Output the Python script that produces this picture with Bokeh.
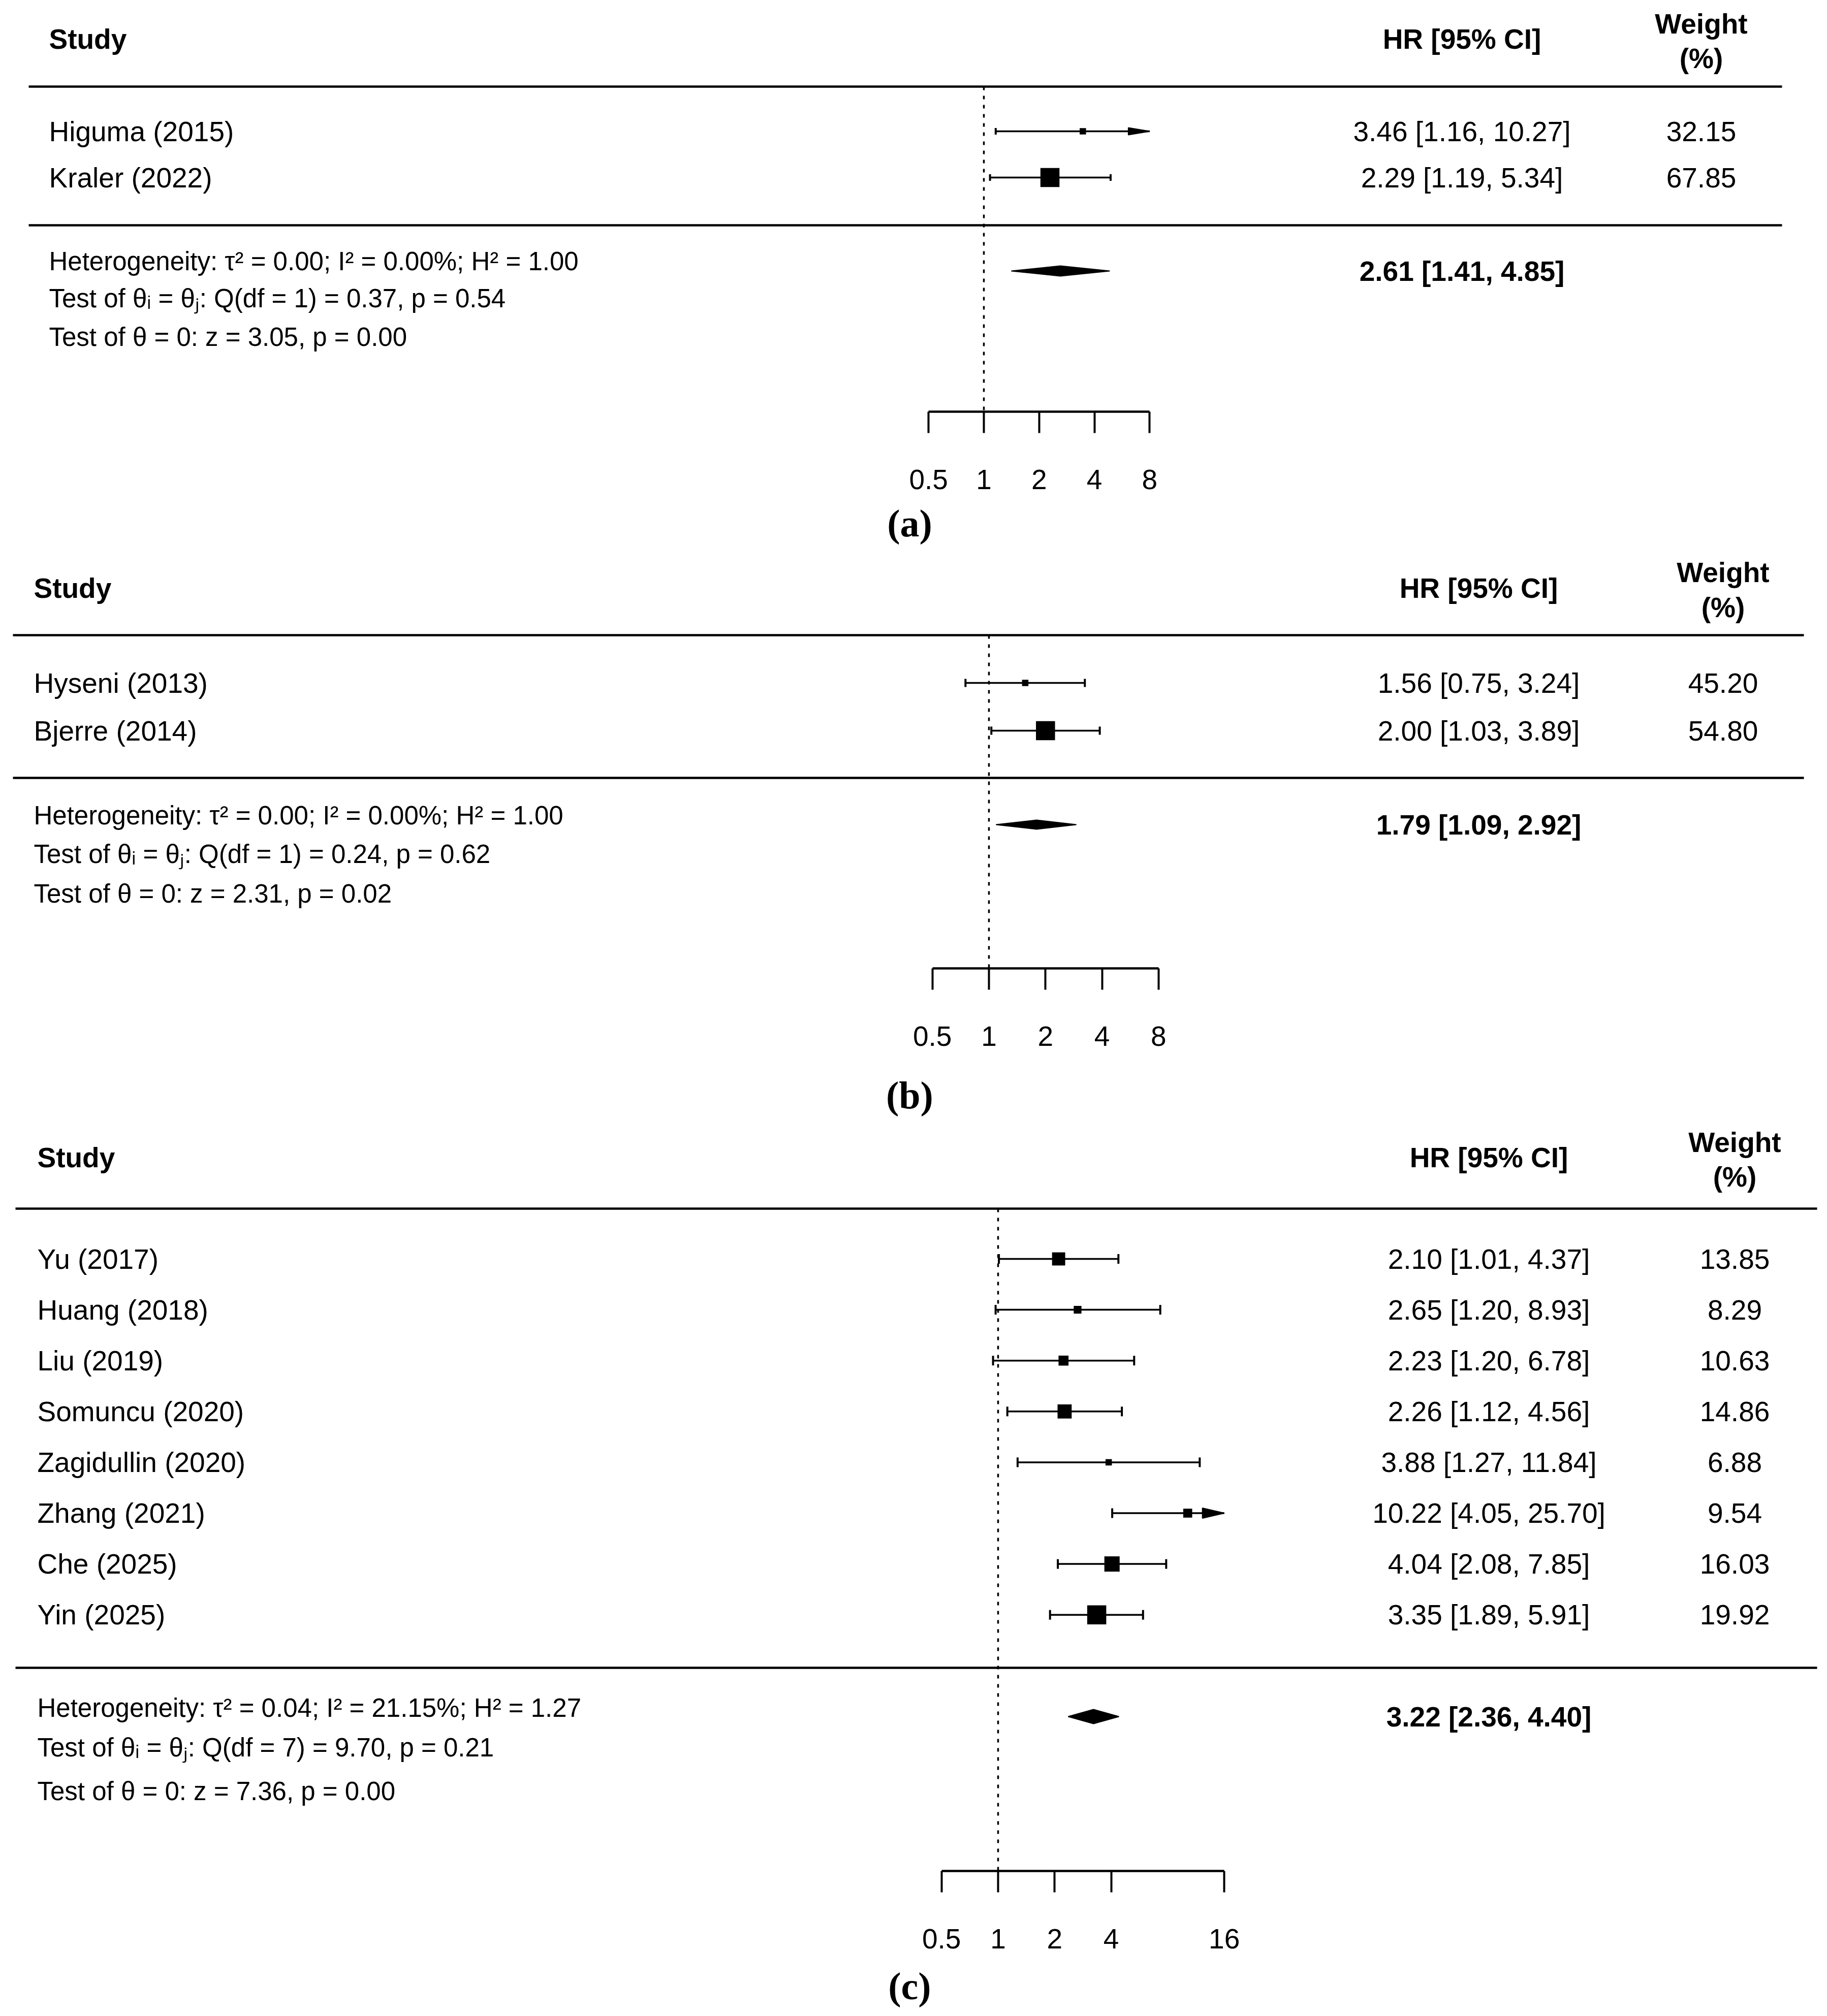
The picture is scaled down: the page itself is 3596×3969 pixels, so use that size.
from bokeh.plotting import figure
from bokeh.models import Range1d, FixedTicker, LogAxis
from bokeh.layouts import column
from bokeh.embed import file_html
from bokeh.resources import INLINE
from bokeh.core.properties import value

# ---------------- data: panel (a) ----------------
studies_a = ["Higuma (2015)", "Kraler (2022)"]
est_a = [3.46, 2.29]
lo_a = [1.16, 1.08]          # plotted CI ends
hi_a = [10.27, 4.90]
ci_text_a = ["3.46 [1.16, 10.27]", "2.29 [1.19, 5.34]"]
weight_a = [32.15, 67.85]
summary_a = [2.61, 1.41, 4.85]
summary_text_a = "2.61 [1.41, 4.85]"
stats_a = [0.00, 0.00, 1.00, 1, 0.37, 0.54, 3.05, 0.00]   # tau2, I2, H2, df, Q, pQ, z, pz
ticks_a = [0.5, 1, 2, 4, 8]
tick_labels_a = ["0.5", "1", "2", "4", "8"]

# ---------------- data: panel (b) ----------------
studies_b = ["Hyseni (2013)", "Bjerre (2014)"]
est_b = [1.56, 2.00]
lo_b = [0.75, 1.03]
hi_b = [3.24, 3.89]
ci_text_b = ["1.56 [0.75, 3.24]", "2.00 [1.03, 3.89]"]
weight_b = [45.20, 54.80]
summary_b = [1.79, 1.09, 2.92]
summary_text_b = "1.79 [1.09, 2.92]"
stats_b = [0.00, 0.00, 1.00, 1, 0.24, 0.62, 2.31, 0.02]
ticks_b = [0.5, 1, 2, 4, 8]
tick_labels_b = ["0.5", "1", "2", "4", "8"]

# ---------------- data: panel (c) ----------------
studies_c = ["Yu (2017)", "Huang (2018)", "Liu  (2019)", "Somuncu (2020)",
             "Zagidullin (2020)", "Zhang (2021)", "Che (2025)", "Yin (2025)"]
est_c = [2.10, 2.65, 2.23, 2.26, 3.88, 10.22, 4.04, 3.35]
lo_c = [1.01, 0.97, 0.94, 1.12, 1.27, 4.05, 2.08, 1.89]
hi_c = [4.37, 7.30, 5.30, 4.56, 11.84, 25.70, 7.85, 5.91]
ci_text_c = ["2.10 [1.01, 4.37]", "2.65 [1.20, 8.93]", "2.23 [1.20, 6.78]",
             "2.26 [1.12, 4.56]", "3.88 [1.27, 11.84]", "10.22 [4.05, 25.70]",
             "4.04 [2.08, 7.85]", "3.35 [1.89, 5.91]"]
weight_c = [13.85, 8.29, 10.63, 14.86, 6.88, 9.54, 16.03, 19.92]
summary_c = [3.22, 2.36, 4.40]
summary_text_c = "3.22 [2.36, 4.40]"
stats_c = [0.04, 21.15, 1.27, 7, 9.70, 0.21, 7.36, 0.00]
ticks_c = [0.5, 1, 2, 4, 16]
tick_labels_c = ["0.5", "1", "2", "4", "16"]

# ---------------- layout (page pixel positions) ----------------
LAY_A = dict(top=0, axis_y=810, bottom=280, x1=1936, ppd=108.8, study_x=96, hr_cx=2877, w_cx=3348,
             head_y=76, w_y=(46, 114), rule_y=(170, 443), rule_x=(56, 3507), row0=258, row_dy=91,
             stats_y=(514, 587, 663), sum_y=533, diam_h=10, arrow_len=42, arrow_h=7, cap_h=6.5,
             letter_standoff=22)
LAY_B = dict(top=1090, axis_y=1906, bottom=304, x1=1946, ppd=111.3, study_x=66, hr_cx=2910, w_cx=3391,
             head_y=1157, w_y=(1126, 1195), rule_y=(1250, 1531), rule_x=(25, 3550), row0=1344, row_dy=94,
             stats_y=(1605, 1681, 1759), sum_y=1623, diam_h=9, arrow_len=42, arrow_h=7, cap_h=8,
             letter_standoff=52)
LAY_C = dict(top=2210, axis_y=3683, bottom=282, x1=1964, ppd=111.3, study_x=73, hr_cx=2930, w_cx=3414,
             head_y=2278, w_y=(2248, 2316), rule_y=(2379, 3283), rule_x=(30, 3576), row0=2478, row_dy=100.1,
             stats_y=(3362, 3440, 3526), sum_y=3379, diam_h=14, arrow_len=43, arrow_h=10, cap_h=9.5,
             letter_standoff=29)
LETTER_CX = 1797

FONT = value("Liberation Sans")
FS = "55px"
FS_STATS = "51px"
W = 3580


def panel(L, names, est, lo, hi, ci_text, weights, summ, summ_text, stats, ticks, tick_labels, letter):
    top, axis_y, x1, ppd = L["top"], L["axis_y"], L["x1"], L["ppd"]

    def X(px):
        return 2.0 ** ((px - x1) / ppd)

    H = (axis_y - top) + L["bottom"]
    p = figure(width=W, height=H, x_axis_type="log", y_axis_location=None,
               x_range=Range1d(X(0), X(W)), y_range=Range1d(axis_y, top),
               output_backend="svg", toolbar_location=None,
               min_border_left=0, min_border_right=0, min_border_top=0,
               min_border_bottom=L["bottom"])
    p.outline_line_color = None
    p.background_fill_color = "white"
    p.border_fill_color = "white"
    p.grid.visible = False

    # HR axis
    ax = p.xaxis[0]
    ax.ticker = FixedTicker(ticks=ticks, minor_ticks=[])
    ax.bounds = (ticks[0], ticks[-1])
    ax.major_label_overrides = {float(t): s for t, s in zip(ticks, tick_labels)}
    ax.axis_line_width = 4.5
    ax.axis_line_color = "black"
    ax.major_tick_line_width = 4
    ax.major_tick_line_color = "black"
    ax.major_tick_in = 0
    ax.major_tick_out = 42
    ax.minor_tick_in = 0
    ax.minor_tick_out = 0
    ax.major_label_standoff = 72
    ax.major_label_text_font = "Liberation Sans"
    ax.major_label_text_font_size = FS
    ax.major_label_text_color = "black"

    # panel letter, carried by a bare axis below the HR axis
    lab = LogAxis(ticker=FixedTicker(ticks=[], minor_ticks=[]),
                  bounds=(X(2 * LETTER_CX - W), X(W)),
                  axis_line_color=None, major_tick_line_color=None, minor_tick_line_color=None,
                  major_tick_in=0, major_tick_out=0, minor_tick_in=0, minor_tick_out=0,
                  major_label_standoff=0, major_label_text_font_size="0px",
                  axis_label=letter, axis_label_standoff=L["letter_standoff"],
                  axis_label_text_font="Liberation Serif", axis_label_text_font_size="76px",
                  axis_label_text_font_style="bold", axis_label_text_color="black")
    p.add_layout(lab, "below")

    n = len(names)
    ys = [L["row0"] + i * L["row_dy"] for i in range(n)]
    bound_hi = ticks[-1]

    # rules
    r0, r1 = L["rule_y"]
    p.segment(x0=[X(L["rule_x"][0])] * 2, x1=[X(L["rule_x"][1])] * 2, y0=[r0, r1], y1=[r0, r1],
              line_width=4.5, line_color="black")
    # null line at HR = 1
    p.segment(x0=[1], x1=[1], y0=[r0], y1=[axis_y], line_width=3.5, line_color="black",
              line_dash="7 11")

    # CI lines, caps, arrows
    seg_x0, seg_x1, seg_y = [], [], []
    cap_x, cap_y0, cap_y1 = [], [], []
    arr_xs, arr_ys = [], []
    ch = L["cap_h"]
    alen = L["arrow_len"] / ppd
    for e, l, h, y in zip(est, lo, hi, ys):
        cap_x.append(l); cap_y0.append(y - ch); cap_y1.append(y + ch)
        if h > bound_hi:
            seg_x0.append(l); seg_x1.append(bound_hi); seg_y.append(y)
            base = bound_hi * 2.0 ** (-alen)
            arr_xs.append([base, bound_hi, base])
            arr_ys.append([y - L["arrow_h"], y, y + L["arrow_h"]])
        else:
            seg_x0.append(l); seg_x1.append(h); seg_y.append(y)
            cap_x.append(h); cap_y0.append(y - ch); cap_y1.append(y + ch)
    p.segment(x0=seg_x0, x1=seg_x1, y0=seg_y, y1=seg_y, line_width=3.5, line_color="black")
    p.segment(x0=cap_x, x1=cap_x, y0=cap_y0, y1=cap_y1, line_width=4, line_color="black")
    if arr_xs:
        p.patches(xs=arr_xs, ys=arr_ys, fill_color="black", line_color="black", line_width=2)

    # squares sized by weight
    wmin, wmax = min(weights), max(weights)
    sizes = [25 * (0.5 + (w - wmin) / (wmax - wmin)) for w in weights]
    p.scatter(x=est, y=ys, size=sizes, marker="square", fill_color="black", line_color=None)

    # summary diamond
    se, sl, sh = summ
    sy, dh = L["sum_y"], L["diam_h"]
    p.patch(x=[sl, se, sh, se], y=[sy, sy - dh, sy, sy + dh], fill_color="black",
            line_color="black", line_width=2)

    # headers
    p.text(x=[X(L["study_x"])], y=[L["head_y"]], text=["Study"], text_font=FONT, text_font_size=FS,
           text_font_style="bold", text_baseline="middle", text_align="left", text_color="black")
    p.text(x=[X(L["hr_cx"])], y=[L["head_y"]], text=["HR [95% CI]"], text_font=FONT, text_font_size=FS,
           text_font_style="bold", text_baseline="middle", text_align="center", text_color="black")
    p.text(x=[X(L["w_cx"])] * 2, y=list(L["w_y"]), text=["Weight", "(%)"], text_font=FONT,
           text_font_size=FS, text_font_style="bold", text_baseline="middle", text_align="center",
           text_color="black")

    # rows
    p.text(x=[X(L["study_x"])] * n, y=ys, text=names, text_font=FONT, text_font_size=FS,
           text_baseline="middle", text_align="left", text_color="black")
    p.text(x=[X(L["hr_cx"])] * n, y=ys, text=ci_text, text_font=FONT, text_font_size=FS,
           text_baseline="middle", text_align="center", text_color="black")
    p.text(x=[X(L["w_cx"])] * n, y=ys, text=[f"{w:.2f}" for w in weights], text_font=FONT,
           text_font_size=FS, text_baseline="middle", text_align="center", text_color="black")

    # summary text
    p.text(x=[X(L["hr_cx"])], y=[sy], text=[summ_text], text_font=FONT, text_font_size=FS,
           text_font_style="bold", text_baseline="middle", text_align="center", text_color="black")

    tau2, i2, h2, df, q, qp, z, zp = stats
    lines = [f"Heterogeneity: \u03c4\u00b2 = {tau2:.2f}; I\u00b2 = {i2:.2f}%; H\u00b2 = {h2:.2f}",
             f"Test of \u03b8\u1d62 = \u03b8\u2c7c: Q(df = {df}) = {q:.2f}, p = {qp:.2f}",
             f"Test of \u03b8 = 0: z = {z:.2f}, p = {zp:.2f}"]
    p.text(x=[X(L["study_x"])] * 3, y=list(L["stats_y"]), text=lines, text_font=FONT,
           text_font_size=FS_STATS, text_baseline="middle", text_align="left", text_color="black")
    return p


pa = panel(LAY_A, studies_a, est_a, lo_a, hi_a, ci_text_a, weight_a, summary_a, summary_text_a,
           stats_a, ticks_a, tick_labels_a, "(a)")
pb = panel(LAY_B, studies_b, est_b, lo_b, hi_b, ci_text_b, weight_b, summary_b, summary_text_b,
           stats_b, ticks_b, tick_labels_b, "(b)")
pc = panel(LAY_C, studies_c, est_c, lo_c, hi_c, ci_text_c, weight_c, summary_c, summary_text_c,
           stats_c, ticks_c, tick_labels_c, "(c)")

layout = column(pa, pb, pc, spacing=0)
open("out.html", "w").write(file_html(layout, INLINE))
